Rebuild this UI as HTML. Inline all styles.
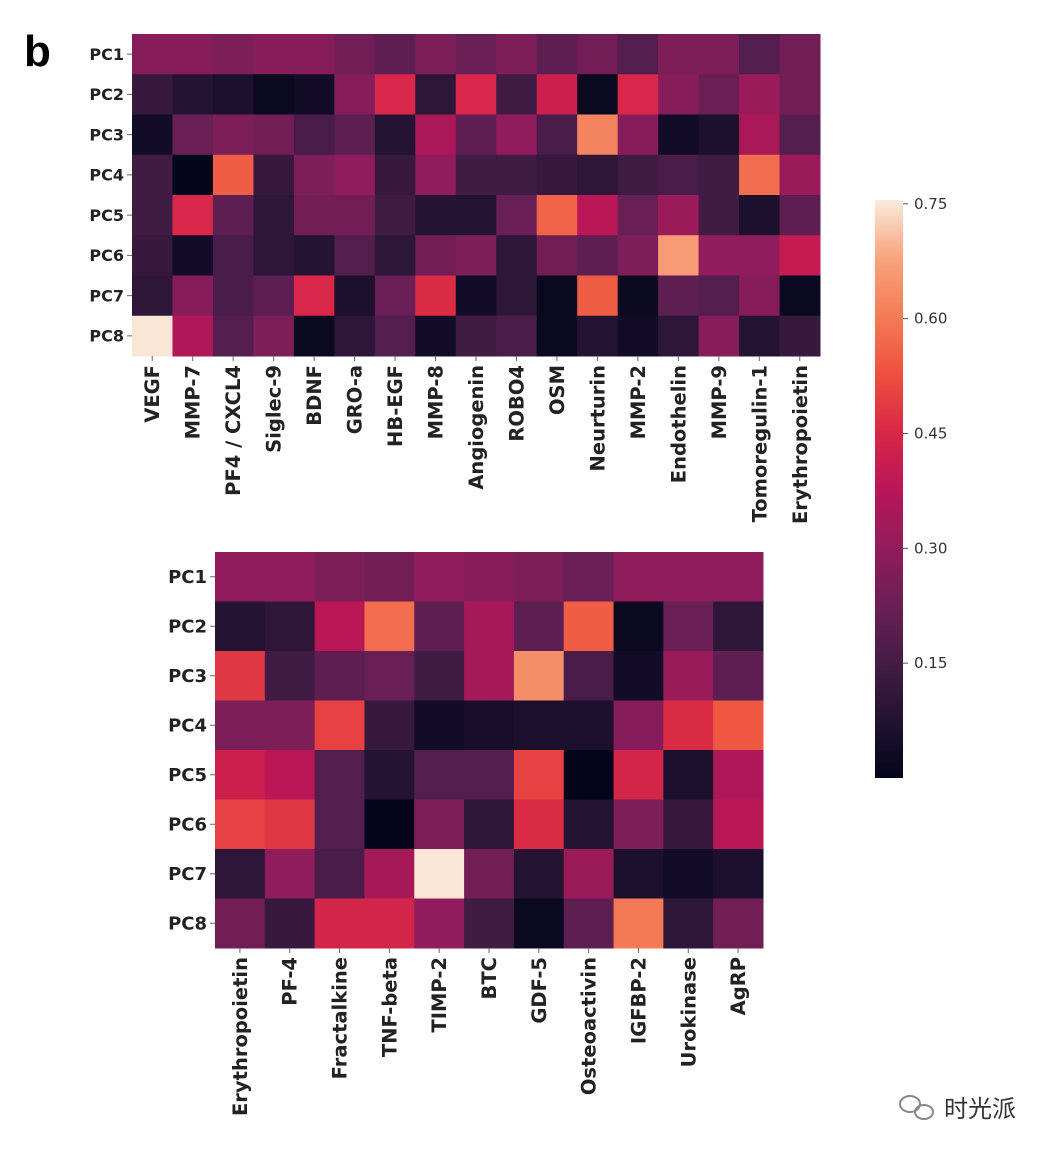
<!DOCTYPE html>
<html><head><meta charset="utf-8"><style>
html,body{margin:0;padding:0;background:#fff;}
svg{display:block;font-family:"DejaVu Sans","Liberation Sans","Noto Sans CJK SC",sans-serif;}
.rl{font-weight:bold;fill:#222;}
.cl{font-size:19.5px;font-weight:bold;fill:#222;}
.cb{font-size:15px;fill:#333;}
</style></head><body>
<svg id="fig" width="1058" height="1154" viewBox="0 0 1058 1154">
<defs>
<linearGradient id="rocket" x1="0" y1="1" x2="0" y2="0">
<stop offset="0" stop-color="#03051A"/><stop offset="0.1" stop-color="#221331"/><stop offset="0.2" stop-color="#451C47"/><stop offset="0.3" stop-color="#6A1F56"/><stop offset="0.4" stop-color="#921C5B"/><stop offset="0.5" stop-color="#B91657"/><stop offset="0.6" stop-color="#D92847"/><stop offset="0.7" stop-color="#ED513E"/><stop offset="0.8" stop-color="#F47C56"/><stop offset="0.9" stop-color="#F6A47E"/><stop offset="1" stop-color="#FAEBDD"/>
</linearGradient>
</defs>
<text x="24" y="66" font-size="44" font-weight="bold" fill="#000" font-family="Liberation Sans, sans-serif">b</text>
<g id="top"></g>
<g id="bot"></g>
<g id="cbar"></g>
<g>
<ellipse cx="910" cy="1104" rx="10" ry="8" fill="none" stroke="#888" stroke-width="2"/>
<ellipse cx="924" cy="1112" rx="9" ry="7" fill="none" stroke="#888" stroke-width="2"/>
<text x="944" y="1117" font-size="24" fill="#333" font-family="Noto Sans CJK SC, sans-serif">时光派</text>
</g>
</svg>
<script>
const rows = ["PC1","PC2","PC3","PC4","PC5","PC6","PC7","PC8"];
const topCols = ["VEGF","MMP-7","PF4 / CXCL4","Siglec-9","BDNF","GRO-a","HB-EGF","MMP-8","Angiogenin","ROBO4","OSM","Neurturin","MMP-2","Endothelin","MMP-9","Tomoregulin-1","Erythropoietin"];
const topVals = [
[0.28,0.28,0.26,0.28,0.28,0.24,0.2,0.26,0.22,0.26,0.2,0.24,0.18,0.26,0.26,0.18,0.24],
[0.12,0.08,0.06,0.02,0.04,0.28,0.45,0.1,0.45,0.14,0.42,0.02,0.45,0.28,0.22,0.32,0.24],
[0.04,0.22,0.26,0.24,0.16,0.2,0.08,0.35,0.2,0.3,0.16,0.62,0.28,0.04,0.06,0.35,0.18],
[0.14,0.0,0.55,0.12,0.26,0.3,0.12,0.3,0.14,0.14,0.12,0.1,0.14,0.16,0.14,0.58,0.32],
[0.14,0.45,0.2,0.1,0.24,0.24,0.14,0.08,0.08,0.22,0.56,0.38,0.22,0.32,0.14,0.06,0.2],
[0.12,0.04,0.16,0.1,0.08,0.18,0.1,0.24,0.26,0.1,0.24,0.2,0.26,0.66,0.3,0.3,0.4],
[0.1,0.28,0.16,0.2,0.45,0.06,0.22,0.46,0.04,0.1,0.02,0.55,0.02,0.2,0.18,0.28,0.02],
[0.75,0.36,0.18,0.26,0.02,0.1,0.18,0.04,0.14,0.16,0.02,0.08,0.04,0.1,0.28,0.08,0.12]];
const botCols = ["Erythropoietin","PF-4","Fractalkine","TNF-beta","TIMP-2","BTC","GDF-5","Osteoactivin","IGFBP-2","Urokinase","AgRP"];
const botVals = [
[0.3,0.3,0.26,0.24,0.3,0.28,0.26,0.22,0.3,0.3,0.3],
[0.08,0.1,0.38,0.58,0.2,0.34,0.2,0.55,0.02,0.22,0.1],
[0.48,0.14,0.2,0.22,0.14,0.34,0.64,0.16,0.04,0.32,0.2],
[0.26,0.26,0.5,0.12,0.04,0.05,0.06,0.06,0.28,0.46,0.54],
[0.42,0.38,0.18,0.08,0.18,0.18,0.5,0.0,0.44,0.06,0.36],
[0.5,0.48,0.18,0.0,0.26,0.1,0.46,0.08,0.26,0.12,0.38],
[0.1,0.3,0.16,0.34,0.75,0.24,0.08,0.32,0.06,0.04,0.06],
[0.24,0.12,0.44,0.44,0.3,0.14,0.02,0.2,0.6,0.1,0.24]];
const cbTicks = [0.15,0.30,0.45,0.60,0.75];
const vmin = 0.0, vmax = 0.755;
const stops = ["#03051A","#221331","#451C47","#6A1F56","#921C5B","#B91657","#D92847","#ED513E","#F47C56","#F6A47E","#FAEBDD"];
const NS = "http://www.w3.org/2000/svg";
function hex(h){return [1,3,5].map(i=>parseInt(h.substr(i,2),16));}
function color(v){
  let t=Math.max(0,Math.min(1,(v-vmin)/(vmax-vmin)))*(stops.length-1);
  let i=Math.min(stops.length-2,Math.floor(t)), f=t-i;
  let a=hex(stops[i]), b=hex(stops[i+1]);
  return "rgb("+a.map((x,k)=>Math.round(x+(b[k]-x)*f)).join(",")+")";
}
function mk(tag,attrs,parent){const e=document.createElementNS(NS,tag);for(const k in attrs)e.setAttribute(k,attrs[k]);parent.appendChild(e);return e;}
function heat(g,cols,vals,x0,y0,x1,y1,prefix,rfs){
  const cw=(x1-x0)/cols.length, rh=(y1-y0)/rows.length;
  vals.forEach((r,ri)=>r.forEach((v,ci)=>{
    const c=mk("rect",{x:x0+ci*cw,y:y0+ri*rh,width:cw+0.5,height:rh+0.5,fill:color(v)},g);
    
    
  }));
  rows.forEach((r,ri)=>{
    const y=y0+(ri+0.5)*rh;
    mk("line",{x1:x0-5,x2:x0,y1:y,y2:y,stroke:"#666"},g);
    const t=mk("text",{x:x0-8,y:y+rfs*0.36,"text-anchor":"end",class:"rl","font-size":rfs},g);
    t.textContent=r;
    
    
  });
  cols.forEach((c,ci)=>{
    const x=x0+(ci+0.5)*cw;
    mk("line",{x1:x,x2:x,y1:y1,y2:y1+5,stroke:"#666"},g);
    const t=mk("text",{x:0,y:0,"text-anchor":"end",class:"cl",transform:"translate("+(x+7)+","+(y1+9)+") rotate(-90)"},g);
    t.textContent=c;
    
    
  });
}
heat(document.getElementById("top"),topCols,topVals,132,34,820,356,"top",16);
heat(document.getElementById("bot"),botCols,botVals,215,552,763,948,"bottom",18);
const cb=document.getElementById("cbar");
const cx0=875,cw=28,cyTop=200,cyBot=778;
const bar=mk("rect",{x:cx0,y:cyTop,width:cw,height:cyBot-cyTop,fill:"url(#rocket)"},cb);


function cy(v){return cyBot-(v-vmin)/(vmax-vmin)*(cyBot-cyTop);}
cbTicks.forEach(v=>{
  const y=cy(v);
  mk("line",{x1:cx0+cw,x2:cx0+cw+5,y1:y,y2:y,stroke:"#555"},cb);
  const t=mk("text",{x:cx0+cw+11,y:y+5,class:"cb"},cb);
  t.textContent=v.toFixed(2);
  
  
});
</script>
</body></html>
